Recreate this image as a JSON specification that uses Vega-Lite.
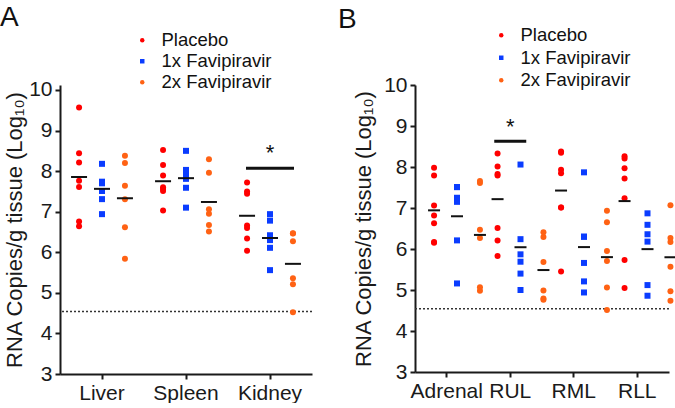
{
  "$schema": "https://vega.github.io/schema/vega-lite/v6.json",
  "background": "white",
  "padding": {"left": 0, "top": 4, "right": 0, "bottom": 0},
  "spacing": 25,
  "config": {
    "font": "Liberation Sans",
    "view": {"stroke": null},
    "axis": {"grid": false, "domainColor": "#1a1a1a", "domainWidth": 2, "tickColor": "#1a1a1a", "tickWidth": 2, "tickSize": 5, "labelFontSize": 21, "labelColor": "#1a1a1a", "titleFontSize": 22, "titleFontWeight": "normal", "titleColor": "#1a1a1a", "labelPadding": 3},
    "axisX": {"labelAngle": 0, "title": null},
    "title": {"fontSize": 28, "fontWeight": "normal", "anchor": "start", "frame": "group", "color": "#111"},
    "tick": {"opacity": 1}
  },
  "datasets": {
    "organs": [
      {"tissue": "Liver", "group": "Placebo", "value": 9.57},
      {"tissue": "Liver", "group": "Placebo", "value": 8.44},
      {"tissue": "Liver", "group": "Placebo", "value": 8.21},
      {"tissue": "Liver", "group": "Placebo", "value": 7.76},
      {"tissue": "Liver", "group": "Placebo", "value": 7.61},
      {"tissue": "Liver", "group": "Placebo", "value": 6.76},
      {"tissue": "Liver", "group": "Placebo", "value": 6.64},
      {"tissue": "Liver", "group": "1x Favipiravir", "value": 8.18},
      {"tissue": "Liver", "group": "1x Favipiravir", "value": 7.74},
      {"tissue": "Liver", "group": "1x Favipiravir", "value": 7.70},
      {"tissue": "Liver", "group": "1x Favipiravir", "value": 7.51},
      {"tissue": "Liver", "group": "1x Favipiravir", "value": 7.31},
      {"tissue": "Liver", "group": "1x Favipiravir", "value": 6.94},
      {"tissue": "Liver", "group": "2x Favipiravir", "value": 8.38},
      {"tissue": "Liver", "group": "2x Favipiravir", "value": 8.20},
      {"tissue": "Liver", "group": "2x Favipiravir", "value": 7.64},
      {"tissue": "Liver", "group": "2x Favipiravir", "value": 7.31},
      {"tissue": "Liver", "group": "2x Favipiravir", "value": 6.62},
      {"tissue": "Liver", "group": "2x Favipiravir", "value": 5.84},
      {"tissue": "Spleen", "group": "Placebo", "value": 8.52},
      {"tissue": "Spleen", "group": "Placebo", "value": 8.15},
      {"tissue": "Spleen", "group": "Placebo", "value": 7.89},
      {"tissue": "Spleen", "group": "Placebo", "value": 7.60},
      {"tissue": "Spleen", "group": "Placebo", "value": 7.56},
      {"tissue": "Spleen", "group": "Placebo", "value": 7.51},
      {"tissue": "Spleen", "group": "Placebo", "value": 7.03},
      {"tissue": "Spleen", "group": "1x Favipiravir", "value": 8.50},
      {"tissue": "Spleen", "group": "1x Favipiravir", "value": 8.03},
      {"tissue": "Spleen", "group": "1x Favipiravir", "value": 7.93},
      {"tissue": "Spleen", "group": "1x Favipiravir", "value": 7.81},
      {"tissue": "Spleen", "group": "1x Favipiravir", "value": 7.59},
      {"tissue": "Spleen", "group": "1x Favipiravir", "value": 7.10},
      {"tissue": "Spleen", "group": "2x Favipiravir", "value": 8.29},
      {"tissue": "Spleen", "group": "2x Favipiravir", "value": 7.96},
      {"tissue": "Spleen", "group": "2x Favipiravir", "value": 7.06},
      {"tissue": "Spleen", "group": "2x Favipiravir", "value": 6.95},
      {"tissue": "Spleen", "group": "2x Favipiravir", "value": 6.67},
      {"tissue": "Spleen", "group": "2x Favipiravir", "value": 6.51},
      {"tissue": "Kidney", "group": "Placebo", "value": 7.72},
      {"tissue": "Kidney", "group": "Placebo", "value": 7.50},
      {"tissue": "Kidney", "group": "Placebo", "value": 7.44},
      {"tissue": "Kidney", "group": "Placebo", "value": 6.66},
      {"tissue": "Kidney", "group": "Placebo", "value": 6.60},
      {"tissue": "Kidney", "group": "Placebo", "value": 6.34},
      {"tissue": "Kidney", "group": "Placebo", "value": 6.04},
      {"tissue": "Kidney", "group": "1x Favipiravir", "value": 6.94},
      {"tissue": "Kidney", "group": "1x Favipiravir", "value": 6.78},
      {"tissue": "Kidney", "group": "1x Favipiravir", "value": 6.42},
      {"tissue": "Kidney", "group": "1x Favipiravir", "value": 6.30},
      {"tissue": "Kidney", "group": "1x Favipiravir", "value": 6.11},
      {"tissue": "Kidney", "group": "1x Favipiravir", "value": 5.56},
      {"tissue": "Kidney", "group": "2x Favipiravir", "value": 6.47},
      {"tissue": "Kidney", "group": "2x Favipiravir", "value": 6.46},
      {"tissue": "Kidney", "group": "2x Favipiravir", "value": 6.27},
      {"tissue": "Kidney", "group": "2x Favipiravir", "value": 5.36},
      {"tissue": "Kidney", "group": "2x Favipiravir", "value": 5.21},
      {"tissue": "Kidney", "group": "2x Favipiravir", "value": 4.52}
    ],
    "lungs": [
      {"tissue": "Adrenal", "group": "Placebo", "value": 7.98},
      {"tissue": "Adrenal", "group": "Placebo", "value": 7.79},
      {"tissue": "Adrenal", "group": "Placebo", "value": 7.06},
      {"tissue": "Adrenal", "group": "Placebo", "value": 6.82},
      {"tissue": "Adrenal", "group": "Placebo", "value": 6.63},
      {"tissue": "Adrenal", "group": "Placebo", "value": 6.17},
      {"tissue": "Adrenal", "group": "Placebo", "value": 6.15},
      {"tissue": "Adrenal", "group": "1x Favipiravir", "value": 7.51},
      {"tissue": "Adrenal", "group": "1x Favipiravir", "value": 7.51},
      {"tissue": "Adrenal", "group": "1x Favipiravir", "value": 7.25},
      {"tissue": "Adrenal", "group": "1x Favipiravir", "value": 7.15},
      {"tissue": "Adrenal", "group": "1x Favipiravir", "value": 6.21},
      {"tissue": "Adrenal", "group": "1x Favipiravir", "value": 5.16},
      {"tissue": "Adrenal", "group": "2x Favipiravir", "value": 7.66},
      {"tissue": "Adrenal", "group": "2x Favipiravir", "value": 7.61},
      {"tissue": "Adrenal", "group": "2x Favipiravir", "value": 6.47},
      {"tissue": "Adrenal", "group": "2x Favipiravir", "value": 6.27},
      {"tissue": "Adrenal", "group": "2x Favipiravir", "value": 5.07},
      {"tissue": "Adrenal", "group": "2x Favipiravir", "value": 4.98},
      {"tissue": "RUL", "group": "Placebo", "value": 8.33},
      {"tissue": "RUL", "group": "Placebo", "value": 8.01},
      {"tissue": "RUL", "group": "Placebo", "value": 7.83},
      {"tissue": "RUL", "group": "Placebo", "value": 7.79},
      {"tissue": "RUL", "group": "Placebo", "value": 6.51},
      {"tissue": "RUL", "group": "Placebo", "value": 6.21},
      {"tissue": "RUL", "group": "Placebo", "value": 5.83},
      {"tissue": "RUL", "group": "1x Favipiravir", "value": 8.06},
      {"tissue": "RUL", "group": "1x Favipiravir", "value": 6.24},
      {"tissue": "RUL", "group": "1x Favipiravir", "value": 5.87},
      {"tissue": "RUL", "group": "1x Favipiravir", "value": 5.69},
      {"tissue": "RUL", "group": "1x Favipiravir", "value": 5.40},
      {"tissue": "RUL", "group": "1x Favipiravir", "value": 5.00},
      {"tissue": "RUL", "group": "2x Favipiravir", "value": 6.41},
      {"tissue": "RUL", "group": "2x Favipiravir", "value": 6.29},
      {"tissue": "RUL", "group": "2x Favipiravir", "value": 5.68},
      {"tissue": "RUL", "group": "2x Favipiravir", "value": 4.99},
      {"tissue": "RUL", "group": "2x Favipiravir", "value": 4.79},
      {"tissue": "RUL", "group": "2x Favipiravir", "value": 4.76},
      {"tissue": "RML", "group": "Placebo", "value": 8.38},
      {"tissue": "RML", "group": "Placebo", "value": 8.35},
      {"tissue": "RML", "group": "Placebo", "value": 7.93},
      {"tissue": "RML", "group": "Placebo", "value": 7.85},
      {"tissue": "RML", "group": "Placebo", "value": 7.01},
      {"tissue": "RML", "group": "Placebo", "value": 7.01},
      {"tissue": "RML", "group": "Placebo", "value": 5.45},
      {"tissue": "RML", "group": "1x Favipiravir", "value": 7.87},
      {"tissue": "RML", "group": "1x Favipiravir", "value": 6.30},
      {"tissue": "RML", "group": "1x Favipiravir", "value": 6.30},
      {"tissue": "RML", "group": "1x Favipiravir", "value": 5.66},
      {"tissue": "RML", "group": "1x Favipiravir", "value": 5.21},
      {"tissue": "RML", "group": "1x Favipiravir", "value": 4.94},
      {"tissue": "RML", "group": "2x Favipiravir", "value": 6.93},
      {"tissue": "RML", "group": "2x Favipiravir", "value": 6.65},
      {"tissue": "RML", "group": "2x Favipiravir", "value": 5.95},
      {"tissue": "RML", "group": "2x Favipiravir", "value": 5.71},
      {"tissue": "RML", "group": "2x Favipiravir", "value": 5.06},
      {"tissue": "RML", "group": "2x Favipiravir", "value": 4.51},
      {"tissue": "RLL", "group": "Placebo", "value": 8.26},
      {"tissue": "RLL", "group": "Placebo", "value": 8.21},
      {"tissue": "RLL", "group": "Placebo", "value": 7.97},
      {"tissue": "RLL", "group": "Placebo", "value": 7.72},
      {"tissue": "RLL", "group": "Placebo", "value": 7.24},
      {"tissue": "RLL", "group": "Placebo", "value": 5.73},
      {"tissue": "RLL", "group": "Placebo", "value": 5.05},
      {"tissue": "RLL", "group": "1x Favipiravir", "value": 6.87},
      {"tissue": "RLL", "group": "1x Favipiravir", "value": 6.59},
      {"tissue": "RLL", "group": "1x Favipiravir", "value": 6.36},
      {"tissue": "RLL", "group": "1x Favipiravir", "value": 6.18},
      {"tissue": "RLL", "group": "1x Favipiravir", "value": 5.12},
      {"tissue": "RLL", "group": "1x Favipiravir", "value": 4.86},
      {"tissue": "RLL", "group": "2x Favipiravir", "value": 7.07},
      {"tissue": "RLL", "group": "2x Favipiravir", "value": 6.27},
      {"tissue": "RLL", "group": "2x Favipiravir", "value": 6.17},
      {"tissue": "RLL", "group": "2x Favipiravir", "value": 5.57},
      {"tissue": "RLL", "group": "2x Favipiravir", "value": 4.97},
      {"tissue": "RLL", "group": "2x Favipiravir", "value": 4.74}
    ],
    "sigA": [{"tissue": "Kidney", "bar": 8.07, "star": 8.45, "label": "*"}],
    "sigB": [{"tissue": "RUL", "bar": 8.63, "star": 8.97, "label": "*"}],
    "limit": [{"lod": 4.54}]
  },
  "resolve": {"scale": {"color": "independent", "shape": "independent"}},
  "hconcat": [
    {
      "width": 252,
      "height": 289,
      "title": {"text": "A", "dx": -60, "offset": -1},
      "layer": [
        {
          "data": {"name": "limit"},
          "mark": {"type": "rule", "color": "#333", "strokeDash": [2, 2], "strokeWidth": 1.5},
          "encoding": {"y": {"field": "lod", "type": "quantitative", "scale": {"domain": [3, 10.123], "nice": false, "zero": false}}}
        },
        {
          "data": {"name": "organs"},
          "transform": [{"window": [{"op": "row_number", "as": "rn"}, {"op": "lag", "field": "value", "as": "prev"}, {"op": "lead", "field": "value", "as": "next"}], "groupby": ["tissue", "group"], "sort": [{"field": "value", "order": "ascending"}]}],
          "encoding": {
            "x": {"field": "tissue", "type": "nominal", "sort": ["Liver", "Spleen", "Kidney"], "scale": {"paddingInner": 0, "paddingOuter": 0}},
            "xOffset": {"field": "group", "type": "nominal", "sort": ["Placebo", "1x Favipiravir", "2x Favipiravir"], "scale": {"paddingInner": 0, "paddingOuter": 0.33}},
            "y": {"field": "value", "type": "quantitative", "scale": {"domain": [3, 10.123], "nice": false, "zero": false}, "axis": {"values": [3, 4, 5, 6, 7, 8, 9, 10], "title": "RNA Copies/g tissue (Log₁₀)", "titlePadding": 2}},
            "color": {"field": "group", "type": "nominal", "scale": {"domain": ["Placebo", "1x Favipiravir", "2x Favipiravir"], "range": ["#ff0000", "#0a3cff", "#ff6214"]}, "legend": {"orient": "none", "legendX": 73, "legendY": -54, "title": null, "labelFontSize": 18.5, "labelColor": "#111", "symbolSize": 20, "rowPadding": 2, "labelOffset": 10, "padding": 0}},
            "shape": {"field": "group", "type": "nominal", "scale": {"domain": ["Placebo", "1x Favipiravir", "2x Favipiravir"], "range": ["circle", "square", "circle"]}, "legend": {"orient": "none", "legendX": 73, "legendY": -54, "title": null, "labelFontSize": 18.5, "labelColor": "#111", "symbolSize": 20, "rowPadding": 2, "labelOffset": 10, "padding": 0}}
          },
          "layer": [
            {
              "transform": [{"filter": "((datum.prev != null && datum.value - datum.prev < 0.15) || (datum.next != null && datum.next - datum.value < 0.15)) && datum.rn % 2 == 1"}],
              "mark": {"type": "point", "filled": true, "size": 36, "opacity": 1},
              "encoding": {"xOffset": {"field": "group", "type": "nominal", "sort": ["Placebo", "1x Favipiravir", "2x Favipiravir"], "bandPosition": 0.33}}
            },
            {
              "transform": [{"filter": "((datum.prev != null && datum.value - datum.prev < 0.15) || (datum.next != null && datum.next - datum.value < 0.15)) && datum.rn % 2 == 0"}],
              "mark": {"type": "point", "filled": true, "size": 36, "opacity": 1},
              "encoding": {"xOffset": {"field": "group", "type": "nominal", "sort": ["Placebo", "1x Favipiravir", "2x Favipiravir"], "bandPosition": 0.67}}
            },
            {
              "transform": [{"filter": "!((datum.prev != null && datum.value - datum.prev < 0.15) || (datum.next != null && datum.next - datum.value < 0.15))"}],
              "mark": {"type": "point", "filled": true, "size": 36, "opacity": 1}
            },
            {
              "mark": {"type": "tick", "orient": "horizontal", "thickness": 2, "size": 16, "opacity": 1},
              "encoding": {
                "y": {"aggregate": "mean", "field": "value", "type": "quantitative"},
                "color": {"value": "#111"},
                "shape": null
              }
            }
          ]
        },
        {
          "data": {"name": "sigA"},
          "mark": {"type": "tick", "orient": "horizontal", "color": "#111", "thickness": 3, "size": 48, "opacity": 1},
          "encoding": {
            "x": {"field": "tissue", "type": "nominal", "sort": ["Liver", "Spleen", "Kidney"]},
            "y": {"field": "bar", "type": "quantitative"}
          }
        },
        {
          "data": {"name": "sigA"},
          "mark": {"type": "text", "fontSize": 22, "color": "#111", "baseline": "middle"},
          "encoding": {
            "x": {"field": "tissue", "type": "nominal", "sort": ["Liver", "Spleen", "Kidney"]},
            "y": {"field": "star", "type": "quantitative"},
            "text": {"field": "label"}
          }
        }
      ]
    },
    {
      "width": 254,
      "height": 287,
      "title": {"text": "B", "dx": -77, "offset": -8},
      "layer": [
        {
          "data": {"name": "limit"},
          "mark": {"type": "rule", "color": "#333", "strokeDash": [2, 2], "strokeWidth": 1.5},
          "encoding": {"y": {"field": "lod", "type": "quantitative", "scale": {"domain": [3, 10], "nice": false, "zero": false}}}
        },
        {
          "data": {"name": "lungs"},
          "transform": [{"window": [{"op": "row_number", "as": "rn"}, {"op": "lag", "field": "value", "as": "prev"}, {"op": "lead", "field": "value", "as": "next"}], "groupby": ["tissue", "group"], "sort": [{"field": "value", "order": "ascending"}]}],
          "encoding": {
            "x": {"field": "tissue", "type": "nominal", "sort": ["Adrenal", "RUL", "RML", "RLL"], "scale": {"paddingInner": 0, "paddingOuter": 0}},
            "xOffset": {"field": "group", "type": "nominal", "sort": ["Placebo", "1x Favipiravir", "2x Favipiravir"], "scale": {"paddingInner": 0, "paddingOuter": 0.33}},
            "y": {"field": "value", "type": "quantitative", "scale": {"domain": [3, 10], "nice": false, "zero": false}, "axis": {"values": [3, 4, 5, 6, 7, 8, 9, 10], "title": "RNA Copies/g tissue (Log₁₀)", "titlePadding": 8}},
            "color": {"field": "group", "type": "nominal", "scale": {"domain": ["Placebo", "1x Favipiravir", "2x Favipiravir"], "range": ["#ff0000", "#0a3cff", "#ff6214"]}, "legend": {"orient": "none", "legendX": 77, "legendY": -59, "title": null, "labelFontSize": 18.5, "labelColor": "#111", "symbolSize": 20, "rowPadding": 3.5, "labelOffset": 10, "padding": 0}},
            "shape": {"field": "group", "type": "nominal", "scale": {"domain": ["Placebo", "1x Favipiravir", "2x Favipiravir"], "range": ["circle", "square", "circle"]}, "legend": {"orient": "none", "legendX": 77, "legendY": -59, "title": null, "labelFontSize": 18.5, "labelColor": "#111", "symbolSize": 20, "rowPadding": 3.5, "labelOffset": 10, "padding": 0}}
          },
          "layer": [
            {
              "transform": [{"filter": "((datum.prev != null && datum.value - datum.prev < 0.15) || (datum.next != null && datum.next - datum.value < 0.15)) && datum.rn % 2 == 1"}],
              "mark": {"type": "point", "filled": true, "size": 36, "opacity": 1},
              "encoding": {"xOffset": {"field": "group", "type": "nominal", "sort": ["Placebo", "1x Favipiravir", "2x Favipiravir"], "bandPosition": 0.36}}
            },
            {
              "transform": [{"filter": "((datum.prev != null && datum.value - datum.prev < 0.15) || (datum.next != null && datum.next - datum.value < 0.15)) && datum.rn % 2 == 0"}],
              "mark": {"type": "point", "filled": true, "size": 36, "opacity": 1},
              "encoding": {"xOffset": {"field": "group", "type": "nominal", "sort": ["Placebo", "1x Favipiravir", "2x Favipiravir"], "bandPosition": 0.64}}
            },
            {
              "transform": [{"filter": "!((datum.prev != null && datum.value - datum.prev < 0.15) || (datum.next != null && datum.next - datum.value < 0.15))"}],
              "mark": {"type": "point", "filled": true, "size": 36, "opacity": 1}
            },
            {
              "mark": {"type": "tick", "orient": "horizontal", "thickness": 2, "size": 12, "opacity": 1},
              "encoding": {
                "y": {"aggregate": "mean", "field": "value", "type": "quantitative"},
                "color": {"value": "#111"},
                "shape": null
              }
            }
          ]
        },
        {
          "data": {"name": "sigB"},
          "mark": {"type": "tick", "orient": "horizontal", "color": "#111", "thickness": 3, "size": 32, "opacity": 1},
          "encoding": {
            "x": {"field": "tissue", "type": "nominal", "sort": ["Adrenal", "RUL", "RML", "RLL"]},
            "y": {"field": "bar", "type": "quantitative"}
          }
        },
        {
          "data": {"name": "sigB"},
          "mark": {"type": "text", "fontSize": 22, "color": "#111", "baseline": "middle"},
          "encoding": {
            "x": {"field": "tissue", "type": "nominal", "sort": ["Adrenal", "RUL", "RML", "RLL"]},
            "y": {"field": "star", "type": "quantitative"},
            "text": {"field": "label"}
          }
        }
      ]
    }
  ]
}
